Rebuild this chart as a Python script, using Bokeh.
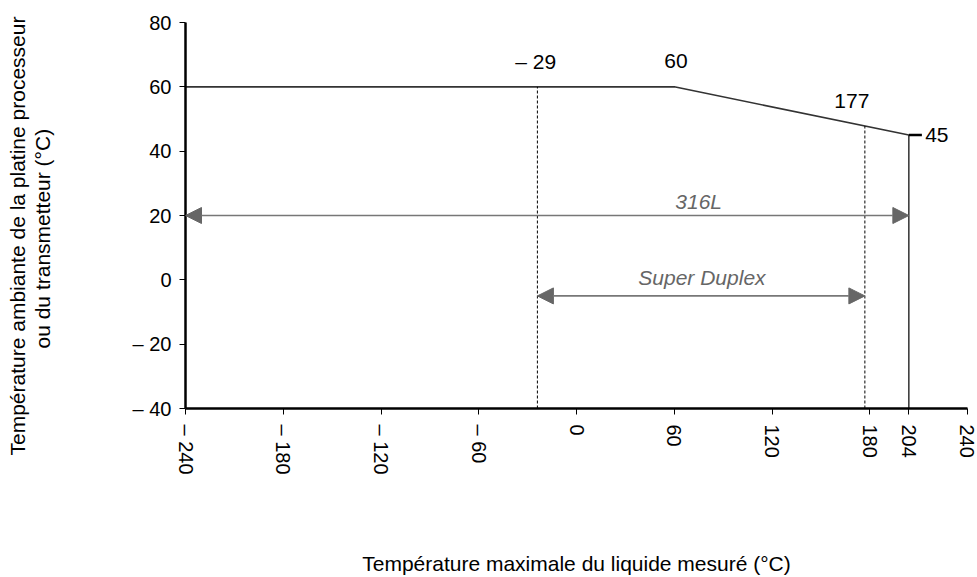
from bokeh.plotting import figure
from bokeh.models import ColumnDataSource, FixedTicker, Arrow, NormalHead, Range1d, Title
from bokeh.core.properties import value
from bokeh.embed import file_html
from bokeh.resources import INLINE

# ---- data ----
limit_x = [-240, 60, 204]
limit_y = [60, 60, 45]
end_x = [204, 204]
end_y = [45, -40]
mark45_x = [204, 212]
mark45_y = [45, 45]
dash_x = [-24, 177]
dash_top = [60, 47.8]
dash_bottom = [-40, -40]
x_ticks = [-240, -180, -120, -60, 0, 60, 120, 180, 204, 240]
x_tick_labels = ["– 240", "– 180", "– 120", "– 60", "0", "60", "120", "180", "204", "240"]
y_ticks = [-40, -20, 0, 20, 40, 60, 80]
y_tick_labels = ["– 40", "– 20", "0", "20", "40", "60", "80"]
range_names = ["316L", "Super Duplex"]
range_start = [-240, -24]
range_end = [204, 177]
range_y = [20, -5]
range_label_x = [75, 77]
range_label_y = [24.5, 0.8]
point_labels = ["– 29", "60", "177"]
point_label_x = [-25, 61, 169]
point_label_y = [68, 68, 55.7]
end_label = ["45"]
end_label_x = [214]
end_label_y = [45]
y_title_lines = ["Température ambiante de la platine processeur", "ou du transmetteur (°C)"]
x_title = "Température maximale du liquide mesuré (°C)"

FONT = "Liberation Sans"

p = figure(width=977, height=577, x_range=Range1d(-240, 240), y_range=Range1d(-40, 80),
           output_backend="svg", toolbar_location=None,
           min_border_left=185, min_border_right=10, min_border_top=22, min_border_bottom=169)
p.outline_line_color = None
p.grid.visible = False
p.background_fill_color = "white"

for ax in (p.xaxis[0], p.yaxis[0]):
    ax.axis_line_width = 2.5
    ax.axis_line_color = "black"
    ax.major_tick_line_color = "black"
    ax.major_tick_line_width = 1
    ax.major_tick_out = 6
    ax.major_tick_in = 0
    ax.minor_tick_line_color = None
    ax.major_label_text_font = FONT
    ax.major_label_text_font_size = "20px"
    ax.major_label_text_color = "black"
    ax.axis_label_text_font = FONT
    ax.axis_label_text_font_size = "21px"
    ax.axis_label_text_font_style = "normal"
    ax.axis_label_text_color = "black"

p.xaxis.ticker = FixedTicker(ticks=x_ticks)
p.xaxis.major_label_overrides = {t: l for t, l in zip(x_ticks, x_tick_labels)}
p.xaxis.major_label_orientation = "vertical"
p.xaxis.major_label_standoff = 10
p.xaxis.axis_label = x_title
p.xaxis.axis_label_standoff = 74

p.yaxis.ticker = FixedTicker(ticks=y_ticks)
p.yaxis.major_label_overrides = {t: l for t, l in zip(y_ticks, y_tick_labels)}
p.yaxis.major_label_standoff = 8
# blank axis label acts as a spacer between tick labels and the title lines
p.yaxis.axis_label = " "
p.yaxis.axis_label_standoff = 50

# the two y-title lines (inner line added first), positioned along the axis by offset
p.add_layout(Title(text=y_title_lines[1], align="left", offset=60, standoff=0,
                   text_font=FONT, text_font_size="21px", text_font_style="normal",
                   text_color="black"), "left")
p.add_layout(Title(text=y_title_lines[0], align="left", offset=-47, standoff=0,
                   text_font=FONT, text_font_size="21px", text_font_style="normal",
                   text_color="black"), "left")

# limit curve
p.line(limit_x, limit_y, line_color="#333333", line_width=1.6)
p.line(end_x, end_y, line_color="#222222", line_width=1.4)
p.line(mark45_x, mark45_y, line_color="black", line_width=2.5)
p.segment(x0=dash_x, y0=dash_bottom, x1=dash_x, y1=dash_top,
          line_color="black", line_width=1, line_dash="3 2")

# range arrows
arr_src = ColumnDataSource(dict(x0=range_start, x1=range_end, y=range_y))
p.add_layout(Arrow(source=arr_src, x_start="x0", y_start="y", x_end="x1", y_end="y",
                   line_color="#777777", line_width=1.6,
                   start=NormalHead(size=16, fill_color="#666666", line_color="#666666"),
                   end=NormalHead(size=16, fill_color="#666666", line_color="#666666")))

p.text(x=range_label_x, y=range_label_y, text=range_names,
       text_font=value(FONT), text_font_size="21px", text_font_style="italic",
       text_color="#666666", text_align="center", text_baseline="middle")

p.text(x=point_label_x, y=point_label_y, text=point_labels,
       text_font=value(FONT), text_font_size="21px",
       text_color="black", text_align="center", text_baseline="middle")
p.text(x=end_label_x, y=end_label_y, text=end_label,
       text_font=value(FONT), text_font_size="21px",
       text_color="black", text_align="left", text_baseline="middle")

open("out.html", "w").write(file_html(p, INLINE))
